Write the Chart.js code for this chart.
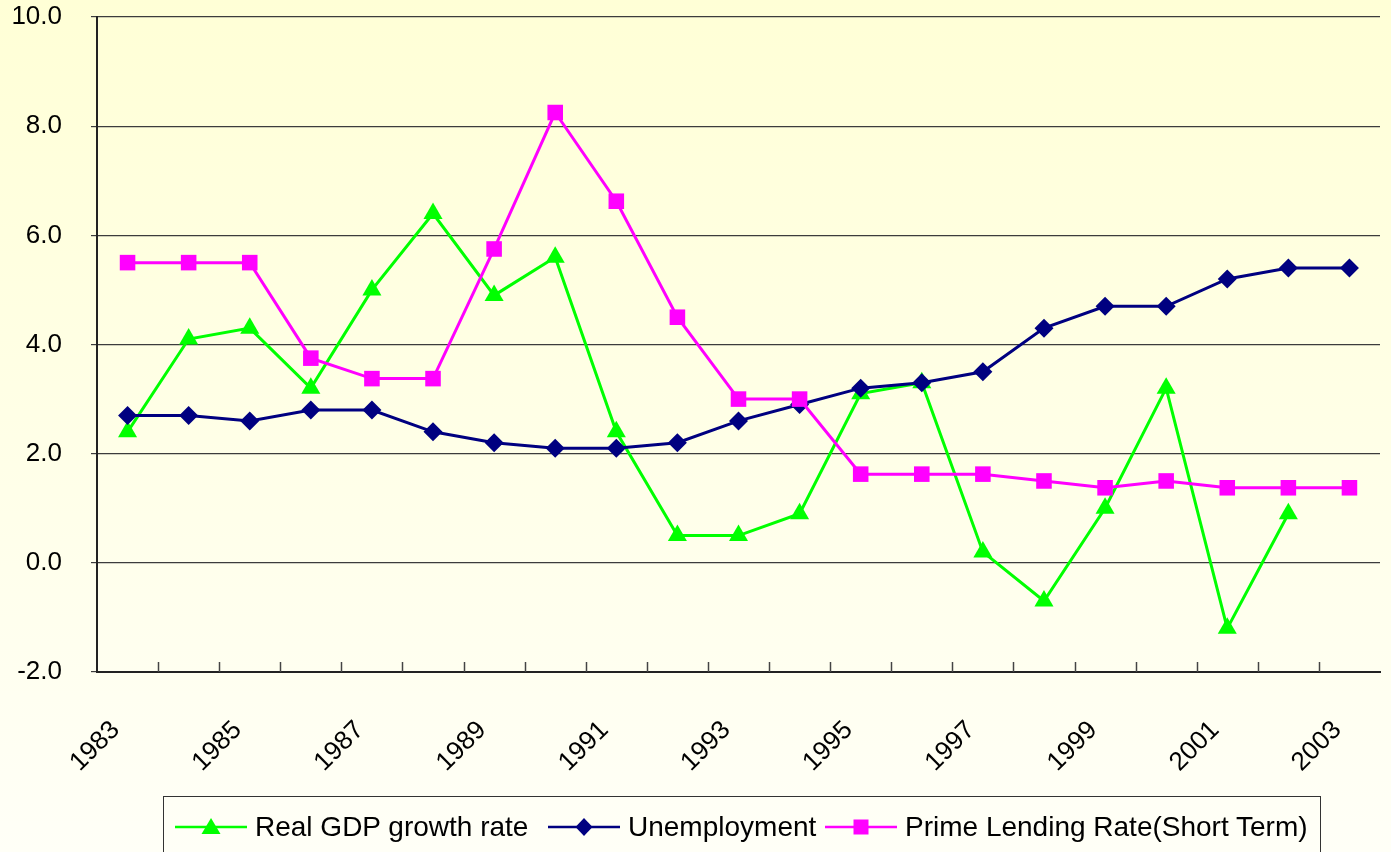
<!DOCTYPE html>
<html lang="en">
<head>
    <meta charset="UTF-8">
    <title>Real GDP growth, Unemployment and Prime Lending Rate</title>
    <script src="https://cdn.jsdelivr.net/npm/chart.js@4.4.0/dist/chart.umd.min.js"></script>
    <style>
        * {
            margin: 0;
            padding: 0;
            box-sizing: border-box;
        }
        html, body {
            width: 1391px;
            height: 852px;
            overflow: hidden;
        }
        body {
            background: linear-gradient(#ffffd6, #fffff7);
            font-family: 'Liberation Sans', Arial, sans-serif;
        }
        .wrap {
            position: relative;
            width: 1391px;
            height: 852px;
        }
        .legend {
            position: absolute;
            left: 163px;
            top: 796px;
            width: 1158px;
            height: 80px;
            border: 1px solid #333;
        }
        .legend .item {
            position: absolute;
            top: 13px;
            height: 34px;
            display: flex;
            align-items: center;
            font-size: 28px;
            color: #000;
            white-space: nowrap;
        }
        .legend svg {
            margin-right: 8px;
        }
    </style>
</head>
<body>
<div class="wrap">
    <canvas id="chart"></canvas>
    <div class="legend" id="legend"></div>
</div>

<script>
    // values
    const years = ['1983', '1984', '1985', '1986', '1987', '1988', '1989', '1990', '1991', '1992', '1993',
                   '1994', '1995', '1996', '1997', '1998', '1999', '2000', '2001', '2002', '2003'];
    const gdpGrowth = [2.4, 4.1, 4.3, 3.2, 5.0, 6.4, 4.9, 5.6, 2.4, 0.5, 0.5,
                       0.9, 3.1, 3.3, 0.2, -0.7, 1.0, 3.2, -1.2, 0.9, null];
    const unemployment = [2.7, 2.7, 2.6, 2.8, 2.8, 2.4, 2.2, 2.1, 2.1, 2.2, 2.6,
                          2.9, 3.2, 3.3, 3.5, 4.3, 4.7, 4.7, 5.2, 5.4, 5.4];
    const primeRate = [5.5, 5.5, 5.5, 3.75, 3.375, 3.375, 5.75, 8.25, 6.625, 4.5, 3.0,
                       3.0, 1.625, 1.625, 1.625, 1.5, 1.375, 1.5, 1.375, 1.375, 1.375];
    const yTicks = [-2, 0, 2, 4, 6, 8, 10];

    const series = [
        { label: 'Real GDP growth rate', data: gdpGrowth, color: '#00ff00', point: 'triangle', radius: 11, order: 3 },
        { label: 'Unemployment', data: unemployment, color: '#000080', point: 'rectRot', radius: 9.5, order: 2 },
        { label: 'Prime Lending Rate(Short Term)', data: primeRate, color: '#ff00ff', point: 'rect', radius: 11, order: 1 }
    ];

    const tickFont = { family: "'Liberation Sans', Arial, sans-serif", size: 26 };

    // small tick marks pointing up into the plot, between categories
    const innerTicks = {
        id: 'innerTicks',
        beforeDatasetsDraw(chart) {
            const x = chart.scales.x;
            const bottom = chart.chartArea.bottom;
            const ctx = chart.ctx;
            ctx.save();
            ctx.strokeStyle = '#444';
            ctx.lineWidth = 1.5;
            for (let i = 1; i < years.length; i++) {
                const px = Math.round((x.getPixelForValue(i - 1) + x.getPixelForValue(i)) / 2) + 0.5;
                ctx.beginPath();
                ctx.moveTo(px, bottom);
                ctx.lineTo(px, bottom - 10);
                ctx.stroke();
            }
            ctx.restore();
        }
    };

    function noPadding(scale) {
        scale.paddingTop = 0;
        scale.paddingBottom = 0;
        scale.paddingLeft = 0;
        scale.paddingRight = 0;
    }

    function markerSvg(s) {
        let shape;
        if (s.point === 'triangle') {
            shape = '<polygon points="36,8 45.5,24 26.5,24" fill="' + s.color + '"/>';
        } else if (s.point === 'rectRot') {
            shape = '<polygon points="36,8 44.5,17 36,26 27.5,17" fill="' + s.color + '"/>';
        } else {
            shape = '<rect x="28.5" y="9.5" width="15" height="15" fill="' + s.color + '"/>';
        }
        return '<svg width="72" height="34"><line x1="0" y1="17" x2="72" y2="17" stroke="' + s.color +
               '" stroke-width="2.5"/>' + shape + '</svg>';
    }

    function buildLegend() {
        const lefts = [11, 384, 661];
        const legend = document.getElementById('legend');
        series.forEach((s, i) => {
            const item = document.createElement('div');
            item.className = 'item';
            item.style.left = lefts[i] + 'px';
            item.innerHTML = markerSvg(s) + '<span>' + s.label + '</span>';
            legend.appendChild(item);
        });
    }

    function drawChart() {
        const ctx = document.getElementById('chart').getContext('2d');
        new Chart(ctx, {
            type: 'line',
            data: {
                labels: years,
                datasets: series.map(s => ({
                    label: s.label,
                    data: s.data,
                    borderColor: s.color,
                    backgroundColor: s.color,
                    borderWidth: 3,
                    pointStyle: s.point,
                    pointRadius: s.radius,
                    pointBorderWidth: 0,
                    pointBackgroundColor: s.color,
                    tension: 0,
                    fill: false,
                    order: s.order
                }))
            },
            options: {
                responsive: true,
                maintainAspectRatio: false,
                animation: false,
                layout: {
                    padding: { top: 17, right: 0, left: 0, bottom: 0 }
                },
                plugins: {
                    legend: { display: false },
                    tooltip: { enabled: false }
                },
                scales: {
                    x: {
                        offset: true,
                        grid: { display: false },
                        border: { display: true, color: '#222', width: 2 },
                        ticks: {
                            autoSkip: false,
                            minRotation: 45,
                            maxRotation: 45,
                            padding: 35,
                            labelOffset: -12,
                            color: '#000',
                            font: tickFont,
                            callback: (v, i) => (i % 2 === 0 ? years[i] : '')
                        },
                        afterFit: scale => {
                            scale.height = 180;
                            noPadding(scale);
                        }
                    },
                    y: {
                        min: -2,
                        max: 10,
                        afterBuildTicks: scale => { scale.ticks = yTicks.map(v => ({ value: v })); },
                        grid: {
                            color: '#3c3c3c',
                            lineWidth: 1.2,
                            tickLength: 6,
                            drawTicks: true
                        },
                        border: { display: true, color: '#222', width: 2 },
                        ticks: {
                            padding: 29,
                            color: '#000',
                            font: tickFont,
                            callback: v => Number(v).toFixed(1)
                        },
                        afterFit: scale => {
                            scale.width = 97;
                            noPadding(scale);
                        }
                    }
                }
            },
            plugins: [innerTicks]
        });
    }

    buildLegend();
    drawChart();
</script>
</body>
</html>
